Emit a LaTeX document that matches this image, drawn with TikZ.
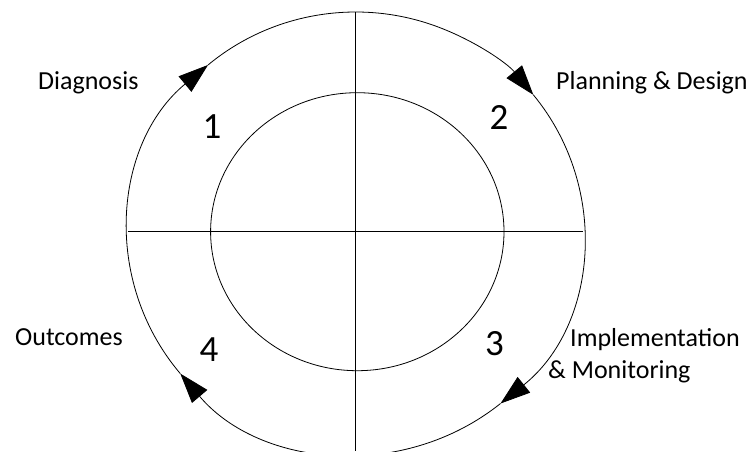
\documentclass[tikz,border=0pt]{standalone}
\usepackage{fontspec}
\setmainfont{Carlito}
\usetikzlibrary{arrows.meta}
\begin{document}
\begin{tikzpicture}[x=1pt,y=1pt,
  ring/.style={line width=0.8pt},
  axisline/.style={line width=1pt},
  cyctip/.style={-{Triangle[length=30pt,width=20pt]}},
  lab/.style={font=\fontsize{26}{32}\selectfont, inner sep=0pt, anchor=base west},
  num/.style={font=\fontsize{37}{44}\selectfont, inner sep=0pt}]
\useasboundingbox (0,0) rectangle (756,451);
\clip (0,0) rectangle (756,451);
\coordinate (oc) at (355.8,218);
\coordinate (ic) at (357.3,219.3);
% inner circle
\draw[ring] (ic) ellipse [x radius=146.7pt, y radius=139pt];
% outer cycle with arrows
\draw[ring,cyctip] (oc) ++(219.5:227.5pt and 221pt) arc[start angle=219.5, end angle=130.5, x radius=227.5pt, y radius=221pt];
\draw[ring,cyctip] (oc) ++(130.5:227.5pt and 221pt) arc[start angle=130.5, end angle=38.7, x radius=227.5pt, y radius=221pt];
\draw[ring,cyctip] (oc) ++(38.7:227.5pt and 221pt) arc[start angle=38.7, end angle=-50.5, x radius=227.5pt, y radius=221pt];
\draw[ring,cyctip] (oc) ++(-50.5:227.5pt and 221pt) arc[start angle=-50.5, end angle=-140.5, x radius=227.5pt, y radius=221pt];
% cross lines
\coordinate (L) at (128.3,220);
\coordinate (R) at (583.3,220);
\coordinate (T) at (355.5,438.8);
\coordinate (B) at (355.5,0);
\draw[axisline] (L) -- (R);
\draw[axisline] (T) -- (B);
% labels
\node[lab] (diag) at (38,361.7) {Diagnosis};
\node[lab] (plan) at (556,361) {Planning \& Design};
\node[lab] (impl) at (570,105) {Implementation};
\node[lab] (moni) at (548,73) {\& Monitoring};
\node[lab] (outc) at (15,106) {Outcomes};
% numbers
\node[num] (n1) at (212,324) {1};
\node[num] (n2) at (499,333.5) {2};
\node[num] (n3) at (494.5,107.5) {3};
\node[num] (n4) at (209,101) {4};
\end{tikzpicture}
\end{document}
